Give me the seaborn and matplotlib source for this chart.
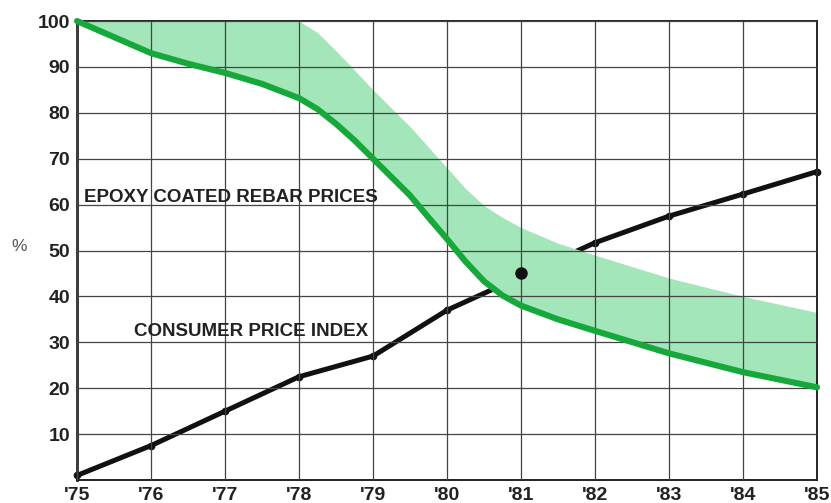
import numpy as np
import pandas as pd
import matplotlib
matplotlib.use("Agg")
import matplotlib.pyplot as plt
import seaborn as sns

# values (percent)
years = [1975, 1976, 1977, 1978, 1979, 1980, 1981, 1982, 1983, 1984, 1985]
tick_labels = ["'75", "'76", "'77", "'78", "'79", "'80", "'81", "'82", "'83", "'84", "'85"]

cpi_years = [1975, 1976, 1977, 1978, 1979, 1980, 1982, 1983, 1984, 1985]
cpi_values = [1, 7.5, 15, 22.5, 27, 37, 51.7, 57.5, 62.3, 67.2]
cpi_dot_year = [1981]
cpi_dot_value = [45]

rebar_years = [1975, 1975.5, 1976, 1976.5, 1977, 1977.5, 1978, 1978.25, 1978.5, 1978.75,
               1979, 1979.25, 1979.5, 1979.75, 1980, 1980.25, 1980.5, 1980.75, 1981,
               1981.5, 1982, 1983, 1984, 1985]
rebar_low = [100, 96.5, 93, 90.7, 88.7, 86.3, 83.2, 80.8, 77.6, 74,
             70, 66, 62, 57.2, 52.5, 47.6, 43.3, 40.2, 38,
             35, 32.5, 27.6, 23.5, 20.2]
rebar_high = [100, 100, 100, 100, 100, 100, 100, 97.5, 93.5, 89.3,
              85, 81, 77, 72.5, 68, 63.5, 59.8, 57.2, 55,
              51.6, 49, 44, 40, 36.5]

cpi_df = pd.DataFrame({"year": cpi_years, "value": cpi_values})
rebar_df = pd.DataFrame({"year": rebar_years, "low": rebar_low, "high": rebar_high})

sns.set_theme(style="white")
plt.rcParams["font.family"] = ["Liberation Sans", "DejaVu Sans"]

fig = plt.figure(figsize=(8.31, 5.03), dpi=100)
ax = fig.add_axes([0.0927, 0.0457, 0.8905, 0.9125])

band_color = "#a3e6b9"
line_green = "#17a83c"

# CPI line sits under the band (it is hidden where the band covers it)
sns.lineplot(data=cpi_df, x="year", y="value", ax=ax, color="#111111", linewidth=3.6,
             marker="o", markersize=5.5, markeredgewidth=0, zorder=0.8, clip_on=False)
ax.fill_between(rebar_df["year"], rebar_df["low"], rebar_df["high"],
                color=band_color, linewidth=0, zorder=1)
sns.lineplot(data=rebar_df, x="year", y="low", ax=ax, color=line_green, linewidth=4.4,
             zorder=3, clip_on=False)
ax.plot(cpi_dot_year, cpi_dot_value, "o", color="#111111", markersize=8, zorder=4)

ax.set_xlim(1975, 1985)
ax.set_ylim(0, 100)
ax.set_xticks(years)
ax.set_xticklabels(tick_labels)
ax.set_yticks(range(10, 101, 10))
ax.set_axisbelow(False)
ax.grid(True, color="#444444", linewidth=0.9)
ax.tick_params(length=0, labelsize=14, pad=5)
for lab in ax.get_xticklabels() + ax.get_yticklabels():
    lab.set_fontweight("bold")
    lab.set_color("#222222")
for sp in ax.spines.values():
    sp.set_visible(True)
    sp.set_color("#222222")
    sp.set_linewidth(1.4)
ax.spines["left"].set_linewidth(2)
ax.set_xlabel("")
ax.set_ylabel("")

ax.text(1975.1, 61.5, "EPOXY COATED REBAR PRICES", fontsize=13.5, fontweight="bold",
        color="#222222", va="center", ha="left")
ax.text(1975.77, 32.3, "CONSUMER PRICE INDEX", fontsize=13.5, fontweight="bold",
        color="#222222", va="center", ha="left")
fig.text(0.014, 0.51, "%", fontsize=12.5, color="#555555", va="center", ha="left")

fig.savefig("out.png", dpi=100)
